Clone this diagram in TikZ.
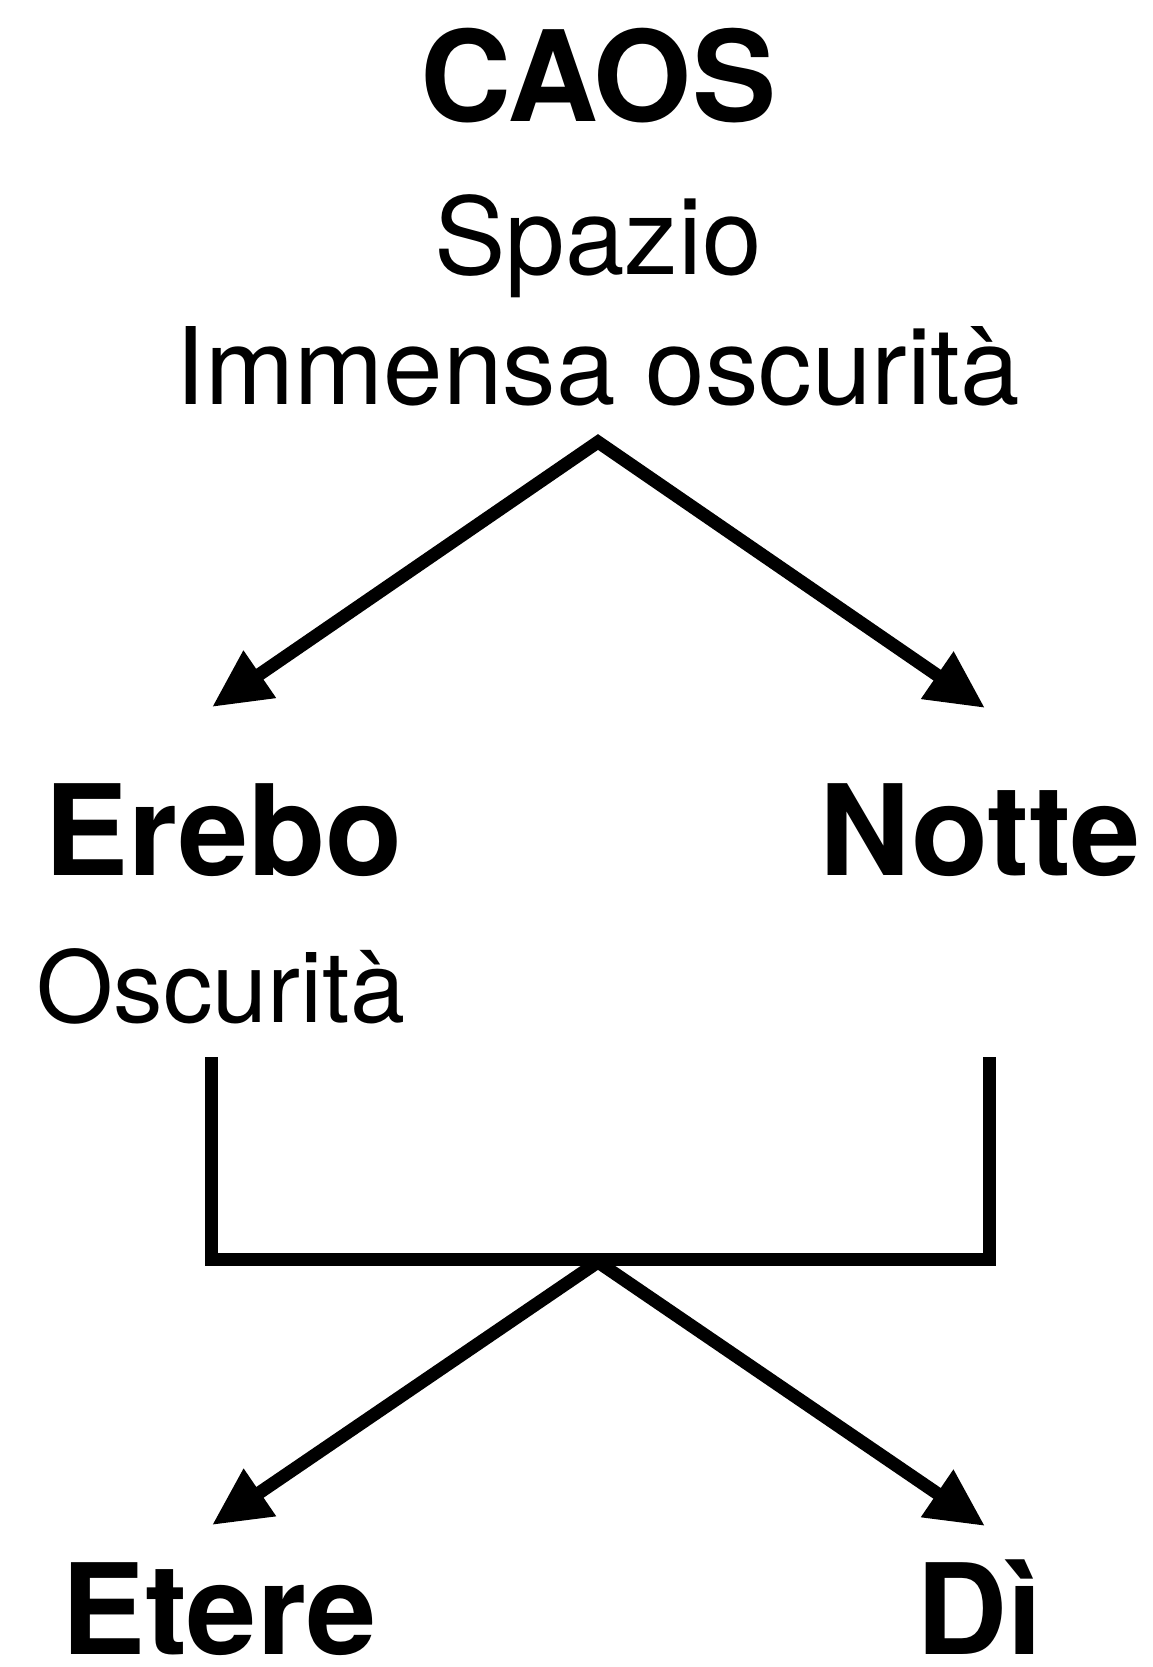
\documentclass[tikz,border=0pt]{standalone}
\usepackage{fontspec}
\setmainfont{TeX Gyre Heros}
\usetikzlibrary{arrows.meta}
\begin{document}
\begin{tikzpicture}[x=1pt, y=-1pt, line width=13pt,
  god node/.style={inner sep=0pt, font=\fontsize{126}{134}\selectfont\bfseries},
  note node/.style={inner sep=0pt, font=\fontsize{107}{115}\selectfont},
  birth/.style={{Triangle[length=58pt,width=54pt]}-{Triangle[length=58pt,width=54pt]}}]
\useasboundingbox (0,0) rectangle (1153,1667);
\begin{scope}
\node [god node, anchor=base] (caos) at (598,122) {CAOS};
\node [note node, anchor=base] (spazio) at (598,274) {Spazio};
\node [note node, anchor=base] (immensa) at (598,404) {Immensa oscurità};
\node [god node, anchor=base west] (erebo) at (38,875) {Erebo};
\node [god node, anchor=base east] (notte) at (1147,875) {Notte};
\node [note node, anchor=base west, font=\fontsize{99}{108}\selectfont] (oscurita) at (30,1022) {Oscurità};
\node [god node, anchor=base west] (etere) at (55,1654) {Etere};
\node [god node, anchor=base west] (di) at (910,1654) {Dì};
\end{scope}
\coordinate (top split) at (598,442);
\coordinate (erebo in) at (212,707);
\coordinate (notte in) at (985,708);
\coordinate (erebo out) at (211.5,1057);
\coordinate (notte out) at (989.5,1057);
\coordinate (join left) at (211.5,1259);
\coordinate (join right) at (989.5,1259);
\coordinate (low split) at (598,1262);
\coordinate (etere in) at (212,1525);
\coordinate (di in) at (985,1526);
\draw [birth] (erebo in) -- (top split) -- (notte in);
\draw [birth] (etere in) -- (low split) -- (di in);
\draw (erebo out) -- (join left) -- (join right) -- (notte out);
\end{tikzpicture}
\end{document}
